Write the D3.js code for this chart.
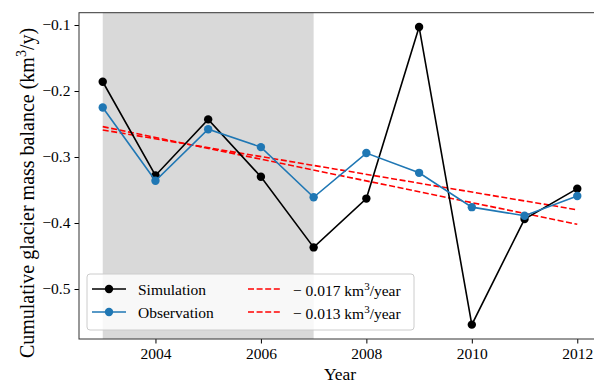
<!DOCTYPE html>
<html>
<head>
<meta charset="utf-8">
<script src="https://cdn.jsdelivr.net/npm/d3@7"></script>
<style>
  body { margin: 0; background: #fff; }
  svg text { font-family: "Liberation Serif", "Times New Roman", serif; fill: #000; }
</style>
</head>
<body>
<script>
// Chart data
// =================================
const years = [2003, 2004, 2005, 2006, 2007, 2008, 2009, 2010, 2011, 2012];
const simulation = [-0.186, -0.328, -0.243, -0.330, -0.437, -0.363, -0.103, -0.554, -0.394, -0.348];
const observation = [-0.225, -0.336, -0.258, -0.285, -0.361, -0.294, -0.324, -0.376, -0.389, -0.359];
// trend lines: [start year, end year] and the values at both ends
const trendYears = [2003, 2012];
const trendSteep = [-0.254, -0.402];
const trendFlat = [-0.259, -0.380];
const trendLabels = ["0.017", "0.013"];
const shadeYears = [2003, 2007];
const xTicks = [2004, 2006, 2008, 2010, 2012];
const yTicks = [-0.1, -0.2, -0.3, -0.4, -0.5];

// Set up the chart
// =================================
let svgWidth = 594;
let svgHeight = 383;
let plotLeft = 79, plotTop = 12.7, plotRight = 601, plotBottom = 339;
let serif = '"Liberation Serif", "Times New Roman", serif';

let svg = d3.select("body").append("svg")
  .attr("width", svgWidth)
  .attr("height", svgHeight);

let x = d3.scaleLinear().domain([2002.55, 2012.45]).range([plotLeft, plotRight]);
let y = d3.scaleLinear().domain([-0.1, -0.5]).range([25, 289]);

// shaded period
svg.append("rect")
  .attr("x", x(shadeYears[0]))
  .attr("y", plotTop)
  .attr("width", x(shadeYears[1]) - x(shadeYears[0]))
  .attr("height", plotBottom - plotTop)
  .attr("fill", "#d9d9d9");

// trend lines
let line = d3.line().x(d => x(d[0])).y(d => y(d[1]));
[trendSteep, trendFlat].forEach(function(t) {
  svg.append("path")
    .datum(trendYears.map((yr, i) => [yr, t[i]]))
    .attr("d", line)
    .attr("fill", "none")
    .attr("stroke", "red")
    .attr("stroke-width", 1.6)
    .attr("stroke-dasharray", "6,2.6");
});

// series
function drawSeries(values, color) {
  let pts = years.map((yr, i) => [yr, values[i]]);
  svg.append("path")
    .datum(pts)
    .attr("d", line)
    .attr("fill", "none")
    .attr("stroke", color)
    .attr("stroke-width", 1.6);
  svg.append("g").selectAll("circle")
    .data(pts)
    .enter()
    .append("circle")
    .attr("cx", d => x(d[0]))
    .attr("cy", d => y(d[1]))
    .attr("r", 4.2)
    .attr("fill", color);
}
drawSeries(simulation, "#000");
drawSeries(observation, "#1f77b4");

// Axes
// =================================
svg.append("g")
  .attr("transform", `translate(0, ${plotBottom})`)
  .call(d3.axisBottom(x).tickValues(xTicks).tickFormat(d3.format("d")).tickSizeOuter(0).tickSize(4.5).tickPadding(4))
  .call(g => g.select(".domain").remove())
  .call(g => g.selectAll("text").style("font-family", serif).style("font-size", "15.5px"));

svg.append("g")
  .attr("transform", `translate(${plotLeft}, 0)`)
  .call(d3.axisLeft(y).tickValues(yTicks).tickFormat(d => "\u2212" + d3.format(".1f")(-d)).tickSizeOuter(0).tickSize(4.5).tickPadding(4))
  .call(g => g.select(".domain").remove())
  .call(g => g.selectAll("text").style("font-family", serif).style("font-size", "15.5px"));

// frame
svg.append("rect")
  .attr("x", plotLeft).attr("y", plotTop)
  .attr("width", plotRight - plotLeft).attr("height", plotBottom - plotTop)
  .attr("fill", "none")
  .attr("stroke", "#333")
  .attr("stroke-width", 1);

// Labels
svg.append("text")
  .attr("x", (plotLeft + plotRight) / 2)
  .attr("y", 380)
  .attr("text-anchor", "middle")
  .attr("font-size", "17.5px")
  .text("Year");

let ylab = svg.append("text")
  .attr("transform", "translate(33.5, 193) rotate(-90)")
  .attr("text-anchor", "middle")
  .attr("font-size", "20px");
ylab.append("tspan").text("Cumulative glacier mass balance (km");
ylab.append("tspan").attr("font-size", "14px").attr("dy", "-8").text("3");
ylab.append("tspan").attr("dy", "8").text("/y)");

// Legend
// =================================
let legend = svg.append("g");
legend.append("rect")
  .attr("x", 87).attr("y", 274)
  .attr("width", 327).attr("height", 56)
  .attr("rx", 3)
  .attr("fill", "rgba(255,255,255,0.8)")
  .attr("stroke", "#cccccc");

let entries = [["Simulation", "#000"], ["Observation", "#1f77b4"]];
entries.forEach(function(e, i) {
  let ly = 289 + i * 23;
  legend.append("line")
    .attr("x1", 92).attr("x2", 126).attr("y1", ly).attr("y2", ly)
    .attr("stroke", e[1]).attr("stroke-width", 1.6);
  legend.append("circle").attr("cx", 109).attr("cy", ly).attr("r", 4.2).attr("fill", e[1]);
  legend.append("text").attr("x", 138).attr("y", ly + 5.5).attr("font-size", "15.5px").text(e[0]);
});

trendLabels.forEach(function(lab, i) {
  let ly = 289 + i * 23;
  legend.append("line")
    .attr("x1", 248).attr("x2", 281).attr("y1", ly).attr("y2", ly)
    .attr("stroke", "red").attr("stroke-width", 1.6)
    .attr("stroke-dasharray", "6,2.6");
  let t = legend.append("text").attr("x", 293).attr("y", ly + 6.5).attr("font-size", "15.5px");
  t.append("tspan").text("\u2212 " + lab + " km");
  t.append("tspan").attr("font-size", "11px").attr("dy", "-6").text("3");
  t.append("tspan").attr("dy", "6").text("/year");
});
</script>
</body>
</html>
